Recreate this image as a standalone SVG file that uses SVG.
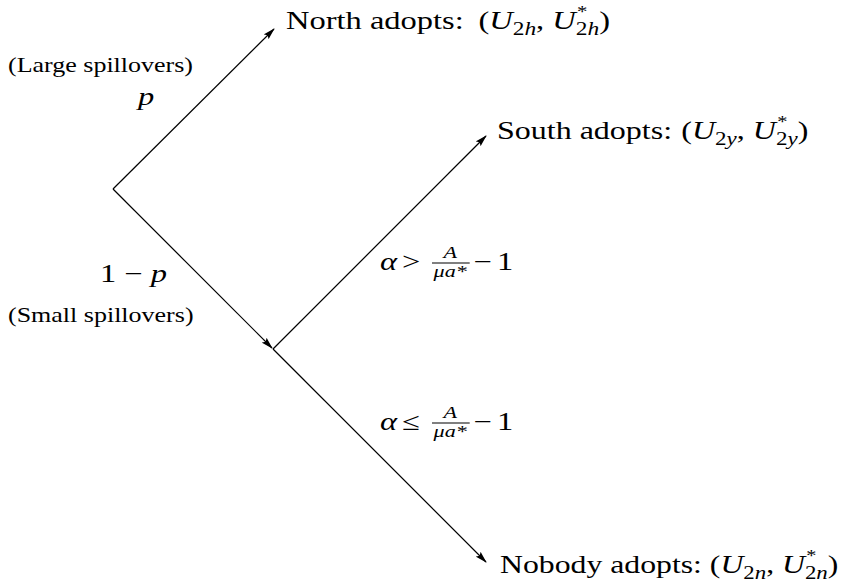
<svg xmlns="http://www.w3.org/2000/svg" width="842" height="585" viewBox="0 0 842 585">
<style>
text{font-family:"Liberation Serif","DejaVu Serif",serif;fill:#000}
.main{font-size:25px}
.small{font-size:20px}
.sub{font-size:18px}
.sup{font-size:16px}
.frac{font-size:17px}
.it{font-style:italic}
.edge{stroke:#000;stroke-width:1.2;fill:none}
.bar{stroke:#000;stroke-width:1}
</style>
<defs>
<marker id="ah" markerWidth="12" markerHeight="8" refX="11" refY="4" orient="auto" markerUnits="userSpaceOnUse">
<path d="M0,0.6 L12,4 L0,7.4 L2,4 Z" fill="#000"/>
</marker>
</defs>
<rect width="842" height="585" fill="#fff"/>
<g id="connectors">
<line class="edge" x1="113" y1="189" x2="274" y2="29" marker-end="url(#ah)"/>
<line class="edge" x1="113" y1="189" x2="272" y2="348" marker-end="url(#ah)"/>
<line class="edge" x1="273" y1="349" x2="486" y2="136" marker-end="url(#ah)"/>
<line class="edge" x1="273" y1="349" x2="486" y2="562" marker-end="url(#ah)"/>
</g>
<g id="root"></g>
<g id="chance-labels">
<g transform="translate(8,72) scale(1.3,1)"><text class="small" x="0" y="0">(Large spillovers)</text></g>
<g transform="translate(138,105) scale(1.3,1)"><text class="main it" x="0" y="0">p</text></g>
<g transform="translate(100,282) scale(1.3,1)"><text class="main" x="0" y="0">1 − <tspan class="it">p</tspan></text></g>
<g transform="translate(8,322) scale(1.3,1)"><text class="small" x="0" y="0">(Small spillovers)</text></g>
</g>
<g id="north" transform="translate(286,29) scale(1.3,1)">
<text class="main" x="0" y="0">North adopts: <tspan dx="5">(</tspan><tspan class="it">U</tspan><tspan class="sub" dy="6">2<tspan class="it">h</tspan></tspan><tspan dy="-6">, </tspan><tspan class="it">U</tspan><tspan class="sup" dx="1" dy="-12">*</tspan><tspan class="sub" dx="-9" dy="18">2<tspan class="it">h</tspan></tspan><tspan dy="-6">)</tspan></text>
</g>
<g id="mid"></g>
<g id="south" transform="translate(497,139) scale(1.28,1)">
<text class="main" x="0" y="0">South adopts: <tspan dx="1">(</tspan><tspan class="it">U</tspan><tspan class="sub" dy="6">2<tspan class="it">y</tspan></tspan><tspan dy="-6">, </tspan><tspan class="it">U</tspan><tspan class="sup" dx="1" dy="-12">*</tspan><tspan class="sub" dx="-9" dy="18">2<tspan class="it">y</tspan></tspan><tspan dy="-6">)</tspan></text>
</g>
<g id="nobody" transform="translate(500,573) scale(1.27,1)">
<text class="main" x="0" y="0">Nobody adopts: <tspan dx="0">(</tspan><tspan class="it">U</tspan><tspan class="sub" dy="6">2<tspan class="it">n</tspan></tspan><tspan dy="-6">, </tspan><tspan class="it">U</tspan><tspan class="sup" dx="1" dy="-12">*</tspan><tspan class="sub" dx="-9" dy="18">2<tspan class="it">n</tspan></tspan><tspan dy="-6">)</tspan></text>
</g>
<g id="cond-up" transform="translate(380,0) scale(1.3,1)">
<text class="main it" x="0" y="270">α</text>
<text class="main" x="17" y="270">&gt;</text>
<text class="frac it" x="54" y="258" text-anchor="middle">A</text>
<line class="bar" x1="40" y1="263" x2="69" y2="263"/>
<text class="frac it" x="54" y="277" text-anchor="middle">μa*</text>
<text class="main" x="72" y="270">−</text>
<text class="main" x="90" y="270">1</text>
</g>
<g id="cond-down" transform="translate(380,0) scale(1.3,1)">
<text class="main it" x="0" y="430">α</text>
<text class="main" x="17" y="430">≤</text>
<text class="frac it" x="54" y="418" text-anchor="middle">A</text>
<line class="bar" x1="40" y1="423" x2="69" y2="423"/>
<text class="frac it" x="54" y="437" text-anchor="middle">μa*</text>
<text class="main" x="72" y="430">−</text>
<text class="main" x="90" y="430">1</text>
</g>
</svg>
